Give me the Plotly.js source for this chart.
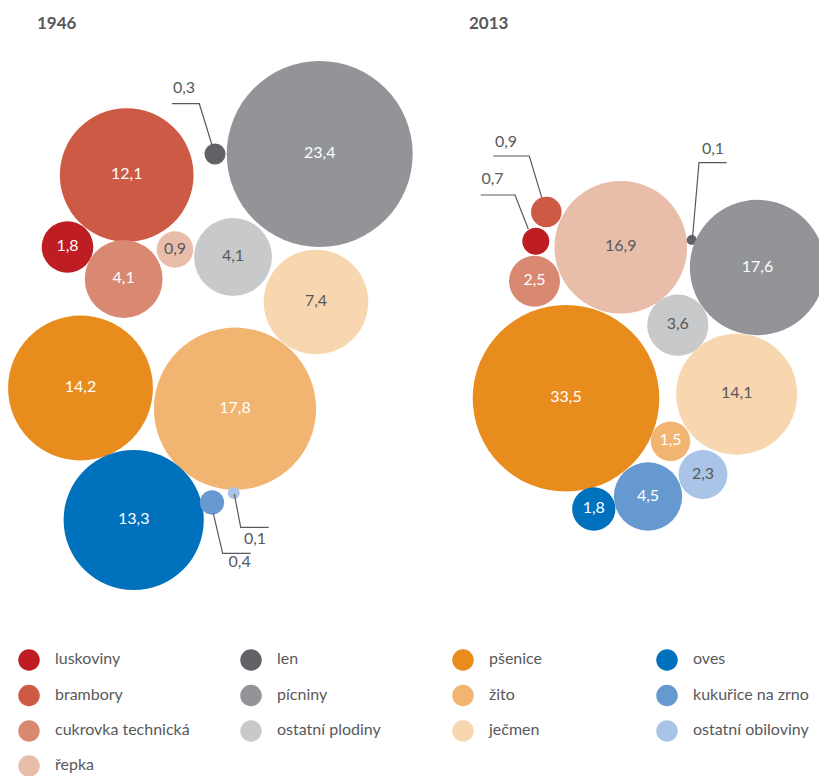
<!DOCTYPE html>
<html>
<head>
<meta charset="utf-8">
<script src="https://cdn.plot.ly/plotly-3.0.1.min.js"></script>
<style>html,body{margin:0;padding:0;background:#fff;}#chart{width:819px;height:776px;}</style>
</head>
<body>
<div id="chart"></div>
<script>
// ---- data ----
const crops = ["luskoviny","brambory","cukrovka technická","řepka","len","pícniny","ostatní plodiny","pšenice","žito","ječmen","oves","kukuřice na zrno","ostatní obiloviny"];
const colors = ["#BE1E23","#CC5A44","#D98872","#E8BDAA","#616265","#939498","#C8C9CB","#E98C1E","#F2B471","#F8D6AF","#0071BC","#6699D0","#A9C4E6"];
const values1946 = [1.8, 12.1, 4.1, 0.9, 0.3, 23.4, 4.1, 14.2, 17.8, 7.4, 13.3, 0.4, 0.1];
const values2013 = [0.7, 0.9, 2.5, 16.9, 0.1, 17.6, 3.6, 33.5, 1.5, 14.1, 1.8, 4.5, 2.3];
const years = ["1946", "2013"];

// ---- layout (pixel positions of the packed circles) ----
const cx1946 = [67.5, 126.7, 123.7, 175, 215, 319.7, 233, 80.5, 235, 316, 133.7, 212, 233.7];
const cy1946 = [247, 175, 279, 249.5, 154, 154, 257, 388, 408.7, 302, 520, 502.5, 493];
const cx2013 = [535.8, 546.3, 534.5, 620.8, 691.7, 757.5, 677.8, 566, 670.5, 736.7, 593.8, 648, 703];
const cy2013 = [241.3, 212, 281.3, 247.2, 240, 267.5, 325.2, 398.3, 441.3, 394.2, 509, 496.5, 474.5];
const k1946 = 19.22, k2013 = 16.12;
const lightText = [false,false,false,true,false,false,true,false,false,true,false,false,true];
// indices labelled outside the circle with a leader line
const callout1946 = [4, 12, 11];
const callout2013 = [1, 0, 4];

const legendCol = [0,0,0,0,1,1,1,2,2,2,3,3,3];
const legendRow = [0,1,2,3,0,1,2,0,1,2,0,1,2];
const colX = [29, 251, 463, 667];
const rowY = [660, 695.5, 731, 766];

const fmt = v => v.toFixed(1).replace('.', ',');
const GRAY = '#58595B';
const FONT = 'Lato, "Open Sans", sans-serif';

function bubbleTrace(vals, cx, cy, k, callouts) {
  return {
    type: 'scatter', mode: 'markers+text',
    x: cx, y: cy,
    text: vals.map((v,i) => callouts.includes(i) ? '' : fmt(v)),
    textposition: 'middle center',
    textfont: {family: FONT, size: 16, color: vals.map((v,i) => lightText[i] ? GRAY : '#ffffff')},
    marker: {size: vals.map(v => 2 * k * Math.sqrt(v)), sizemode: 'diameter', color: colors, line: {width: 0}, opacity: 1},
    hoverinfo: 'skip', showlegend: false, cliponaxis: true
  };
}

// small-value callouts
const calloutVals = callout1946.map(i => values1946[i]).concat(callout2013.map(i => values2013[i]));
const calloutX = [184, 255, 239.7, 506, 492.5, 713];
const calloutY = [89, 540, 563, 143, 180, 150];
const leaderPaths = [
  'M172,103.7 L199.3,103.7 L212,145',
  'M234.3,494 L240.7,527.3 L268.7,527.3',
  'M213.3,513.3 L222.7,553.3 L250.7,553.3',
  'M493.3,156 L529.3,156 L541.7,197.3',
  'M480.7,195 L515,195 L528.3,229',
  'M726.7,162.7 L699,162.7 L692.3,240'
];

const traces = [
  bubbleTrace(values1946, cx1946, cy1946, k1946, callout1946),
  bubbleTrace(values2013, cx2013, cy2013, k2013, callout2013),
  {
    type: 'scatter', mode: 'text', x: calloutX, y: calloutY,
    text: calloutVals.map(fmt), textposition: 'middle center',
    textfont: {family: FONT, size: 16, color: GRAY}, hoverinfo: 'skip', showlegend: false
  },
  {
    type: 'scatter', mode: 'markers',
    x: crops.map((c,i) => colX[legendCol[i]]), y: crops.map((c,i) => rowY[legendRow[i]]),
    marker: {size: 21.5, color: colors, line: {width: 0}},
    hoverinfo: 'skip', showlegend: false
  },
  {
    type: 'scatter', mode: 'text',
    x: crops.map((c,i) => colX[legendCol[i]] + 26), y: crops.map((c,i) => rowY[legendRow[i]]),
    text: crops, textposition: 'middle right',
    textfont: {family: FONT, size: 16, color: GRAY},
    marker: {size: 0}, hoverinfo: 'skip', showlegend: false
  }
];

const layout = {
  width: 819, height: 776,
  margin: {l: 0, r: 0, t: 0, b: 0},
  paper_bgcolor: '#ffffff', plot_bgcolor: '#ffffff',
  xaxis: {range: [0, 819], visible: false, fixedrange: true},
  yaxis: {range: [776, 0], visible: false, fixedrange: true},
  showlegend: false,
  shapes: leaderPaths.map(p => ({type: 'path', path: p, xref: 'x', yref: 'y', line: {color: GRAY, width: 1.2}})),
  annotations: [
    {text: '<b>' + years[0] + '</b>', x: 35, y: 22, xref: 'x', yref: 'y', xanchor: 'left', yanchor: 'middle', showarrow: false, font: {family: FONT, size: 17, color: GRAY}},
    {text: '<b>' + years[1] + '</b>', x: 467, y: 22, xref: 'x', yref: 'y', xanchor: 'left', yanchor: 'middle', showarrow: false, font: {family: FONT, size: 17, color: GRAY}}
  ]
};

Plotly.newPlot('chart', traces, layout, {displayModeBar: false, staticPlot: true});
</script>
</body>
</html>
